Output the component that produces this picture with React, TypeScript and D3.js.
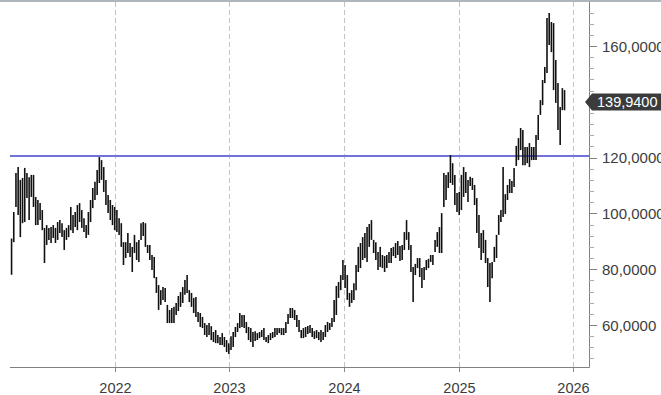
import React from "react";
import * as d3 from "d3";

// Weekly bars starting on this date (one bar per week)
const startDate = new Date(2021, 1, 5);

// Weekly highs (price units)
const highs: number[] = [
  91, 100.5, 114.5, 116.6, 112, 112.7, 116.3, 114.5, 113, 113.8,
  113.8, 105.9, 104.8, 103.7, 101.2, 94.8, 95.8, 94.8, 95.1, 95.8,
  94.8, 96.9, 97.6, 96.5, 94, 94.8, 95.8, 102.3, 99.4, 100.5,
  103, 103.7, 101.2, 98.3, 95.8, 100.5, 104.8, 109.1, 111.3, 115.6,
  120.2, 119.1, 116.6, 112, 106.6, 104.8, 103, 102.3,
  101.2, 98.3, 96.5, 89.7, 89.7, 93, 89.4, 88, 92.3, 89.7,
  90.5, 96.5, 96.9, 96.5, 88.7, 88.7, 85.1, 84.4, 77.2, 74.3,
  72.5, 73.6, 73.3, 67.2, 65.4, 66.1, 66.5, 67.9, 70.4, 71.8,
  73.6, 76.1, 77.9, 72.5, 71.5, 69.7, 70, 64.7, 64.3, 62.9,
  60.7, 60, 60.7, 59.6, 57.5, 58.2, 56.4, 55.7, 57.1, 55.7,
  54.6, 53.5, 56,
  57.5, 59.3, 60.7, 64.3, 63.6, 63.6, 61.1, 59.3, 58.9, 57.5,
  57.8, 57.1, 57.5, 58.2, 58.9, 55.7, 56.4, 57.1, 57.5, 58.9,
  58.9, 58.9, 58.9, 58.9, 61.1, 63.9, 66.1, 66.1, 65.4, 63.6,
  61.8, 58.2, 58.9, 59.3, 59.6, 60, 58.9, 57.8, 58.2, 57.5,
  58.2, 57.5, 60, 61.1, 60.7, 62.5, 69, 74, 75.4, 77.9,
  83.3, 81.5, 77.9, 71.5, 72.5, 75, 81.5, 88, 89.4, 91.5,
  93, 95.1,
  96.2, 97.6, 90.5, 89.7, 86.2, 88, 85.1, 84.7, 85.1, 86.2,
  87.6, 88, 89.4, 90.1, 88.3, 88.7, 93.3, 97.6, 93.3, 88.7,
  80.8, 81.9, 84, 84, 80.4, 80.8, 83.3, 83.7, 85.1, 85.1,
  90.5, 93.3, 95.1, 100.1, 114.5, 113.8, 114.8, 120.9, 118, 113.8,
  107.3, 107.7, 113.8, 116.6, 114.8, 112, 113.1, 112.7, 110.2,
  105.5, 99.4, 93, 94, 90.5, 84, 82.2, 82.6, 88, 92.3,
  99.4, 101.2, 116.6, 106.9, 110.2, 112.3, 111.6, 116.3, 124.2, 127,
  130.6, 129.9, 123.8, 123.8, 125.2, 123.8, 123.8, 128.1, 135.3, 140.6,
  147.8, 152.5, 170, 171.8, 168.6, 168.2, 155, 146.7, 138.1, 144.9,
  144.2,
];

// Weekly lows (price units)
const lows: number[] = [
  78, 89.7, 102.3, 99.4, 91.5, 96.5, 96.9, 105.5, 97.6, 105.9,
  102.3, 95.8, 95.8, 97.6, 94, 82.2, 88.7, 90.5, 89.4, 91.2,
  89.4, 90.5, 93, 91.5, 86.9, 90.5, 91.5, 94, 93, 95.1,
  94, 96.9, 94.8, 93.3, 91.2, 92.3, 96.9, 101.9, 104.8, 106.6,
  110.9, 112, 107.7, 103, 100.1, 97.6, 95.8, 94,
  93.3, 92.3, 88, 81.5, 84, 85.8, 84.4, 79, 85.8, 83.3,
  82.6, 90.5, 91.9, 88, 85.8, 83.3, 79.7, 76.8, 71.5, 65.4,
  67.2, 69, 68.2, 60.7, 60.7, 60.7, 60.7, 63.6, 65, 66.5,
  67.9, 70.8, 71.5, 68.2, 66.5, 64.3, 62.9, 61.1, 59.3, 58.9,
  56.4, 55.7, 56.4, 54.6, 53.9, 53.5, 53.5, 52.8, 52.8, 52.1,
  50.3, 49.6, 51,
  52.1, 55.7, 57.5, 58.9, 59.3, 58.9, 57.1, 54.6, 53.9, 52.1,
  54.3, 54.6, 55.3, 55.7, 54.6, 53.9, 53.5, 54.6, 55.3, 55.7,
  56.4, 57.1, 56.4, 56.4, 57.1, 60.4, 62.5, 62.5, 61.8, 59.3,
  57.5, 55.3, 55.3, 55.7, 56.8, 57.1, 55.7, 55, 55.3, 54.6,
  53.9, 54.6, 55.7, 57.5, 58.2, 59.3, 61.1, 63.6, 69.7, 72.5,
  76.1, 73.3, 69, 66.5, 67.9, 69, 72.5, 79, 80.4, 83.3,
  84, 82.6,
  88, 90.5, 85.8, 83.3, 79.7, 80.8, 80.4, 79, 80.4, 82.2,
  82.2, 84.7, 84, 85.1, 82.9, 83.3, 86.9, 90.5, 86.9, 79,
  68.2, 77.9, 80.4, 77.2, 73.3, 76.1, 79.7, 80.4, 82.6, 81.5,
  86.2, 88, 85.8, 85.8, 102.3, 104.8, 109.1, 110.9, 110.2, 103,
  100.5, 99.4, 101.2, 105.9, 107.3, 104.1, 109.8, 108.4, 103,
  93, 87.6, 83.3, 85.8, 82.2, 73.6, 68.2, 76.8, 82.6, 84,
  92.3, 96.9, 98.7, 99.8, 104.8, 107.3, 107.3, 109.5, 117, 119.1,
  122.7, 117.3, 117.3, 118, 116.6, 119.1, 119.1, 119.1, 126.3, 135.3,
  138.8, 146.7, 150.3, 160.4, 157.8, 144.2, 139.6, 129.9, 124.5, 137,
  137,
];

const lastPrice = 139.94;
const resistanceLevel = 120.6;
const yearTicks = [2022, 2023, 2024, 2025, 2026];
const majorTicks = [60, 80, 100, 120, 140, 160];
const labelledTicks = [60, 80, 100, 120, 160];
const minorTicks = [48, 52, 56, 64, 68, 72, 76, 84, 88, 92, 96, 104, 108, 112, 116, 124, 128, 132, 136, 144, 148, 152, 156, 164, 168, 172];

const W = 661;
const H = 395;
const plotLeft = 10;
const plotRight = 589;
const plotTop = 2;
const plotBottom = 367;

const fmt = (v: number) => d3.format(".4f")(v).replace(".", ",");

export default function App() {
  const x = d3
    .scaleTime()
    .domain([new Date(2021, 0, 31), new Date(2026, 1, 21)])
    .range([plotLeft, plotRight]);
  const y = d3.scaleLinear().domain([60, 160]).range([325, 46]);

  const n = Math.min(highs.length, lows.length);
  const bars = d3.range(n).map((i) => ({
    date: d3.timeWeek.offset(startDate, i),
    high: highs[i],
    low: lows[i],
  }));

  const textColor = "#3c3c3c";
  const font = "'Liberation Sans', Arial, sans-serif";
  const py = y(lastPrice);

  return (
    <svg
      width={W}
      height={H}
      style={{ position: "absolute", left: 0, top: 0, background: "#fff" }}
    >
      <rect x={0} y={0} width={W} height={H} fill="#fff" />
      <rect x={0} y={0} width={W} height={2} fill="#adb5bd" />

      {/* year gridlines */}
      {yearTicks.map((yr) => {
        const xx = Math.round(x(new Date(yr, 0, 1))) + 0.5;
        return (
          <g key={yr}>
            <line
              x1={xx}
              x2={xx}
              y1={plotTop}
              y2={plotBottom}
              stroke="#c4c4c4"
              strokeDasharray="5,3"
            />
            <line x1={xx} x2={xx} y1={plotBottom} y2={plotBottom + 5} stroke="#888" />
            <text
              x={xx}
              y={393}
              textAnchor="middle"
              fontFamily={font}
              fontSize={14.5}
              fill={textColor}
            >
              {yr}
            </text>
          </g>
        );
      })}

      {/* resistance line */}
      <line
        x1={plotLeft}
        x2={plotRight}
        y1={y(resistanceLevel)}
        y2={y(resistanceLevel)}
        stroke="#7272da"
        strokeWidth={2}
      />

      {/* weekly bars */}
      {bars.map((b, i) => (
        <line
          key={i}
          x1={x(b.date)}
          x2={x(b.date)}
          y1={y(b.high)}
          y2={y(b.low)}
          stroke="#111"
          strokeWidth={1.6}
        />
      ))}

      {/* axes lines */}
      <line x1={plotLeft} x2={plotRight + 0.5} y1={plotBottom + 0.5} y2={plotBottom + 0.5} stroke="#808080" />
      <line x1={plotRight + 0.5} x2={plotRight + 0.5} y1={plotTop} y2={plotBottom + 0.5} stroke="#808080" />

      {/* y minor ticks */}
      {minorTicks.map((t) => (
        <line
          key={"m" + t}
          x1={plotRight}
          x2={plotRight + 5}
          y1={Math.round(y(t)) + 0.5}
          y2={Math.round(y(t)) + 0.5}
          stroke="#aaa"
        />
      ))}
      {/* y major ticks */}
      {majorTicks.map((t) => (
        <line
          key={"M" + t}
          x1={plotRight}
          x2={plotRight + 8}
          y1={Math.round(y(t)) + 0.5}
          y2={Math.round(y(t)) + 0.5}
          stroke="#808080"
        />
      ))}
      {/* y labels (140 is hidden behind the last-price tag) */}
      {labelledTicks.map((t) => (
        <text
          key={"L" + t}
          x={602}
          y={y(t)}
          dominantBaseline="central"
          fontFamily={font}
          fontSize={15}
          fill={textColor}
        >
          {fmt(t)}
        </text>
      ))}

      {/* last price tag */}
      <path
        d={`M585,${py} L592,${py - 8.5} L${W},${py - 8.5} L${W},${py + 8.5} L592,${py + 8.5} Z`}
        fill="#3b3b3b"
      />
      <text
        x={597}
        y={py}
        dominantBaseline="central"
        fontFamily={font}
        fontSize={14.5}
        fill="#fff"
      >
        {fmt(lastPrice)}
      </text>
    </svg>
  );
}
